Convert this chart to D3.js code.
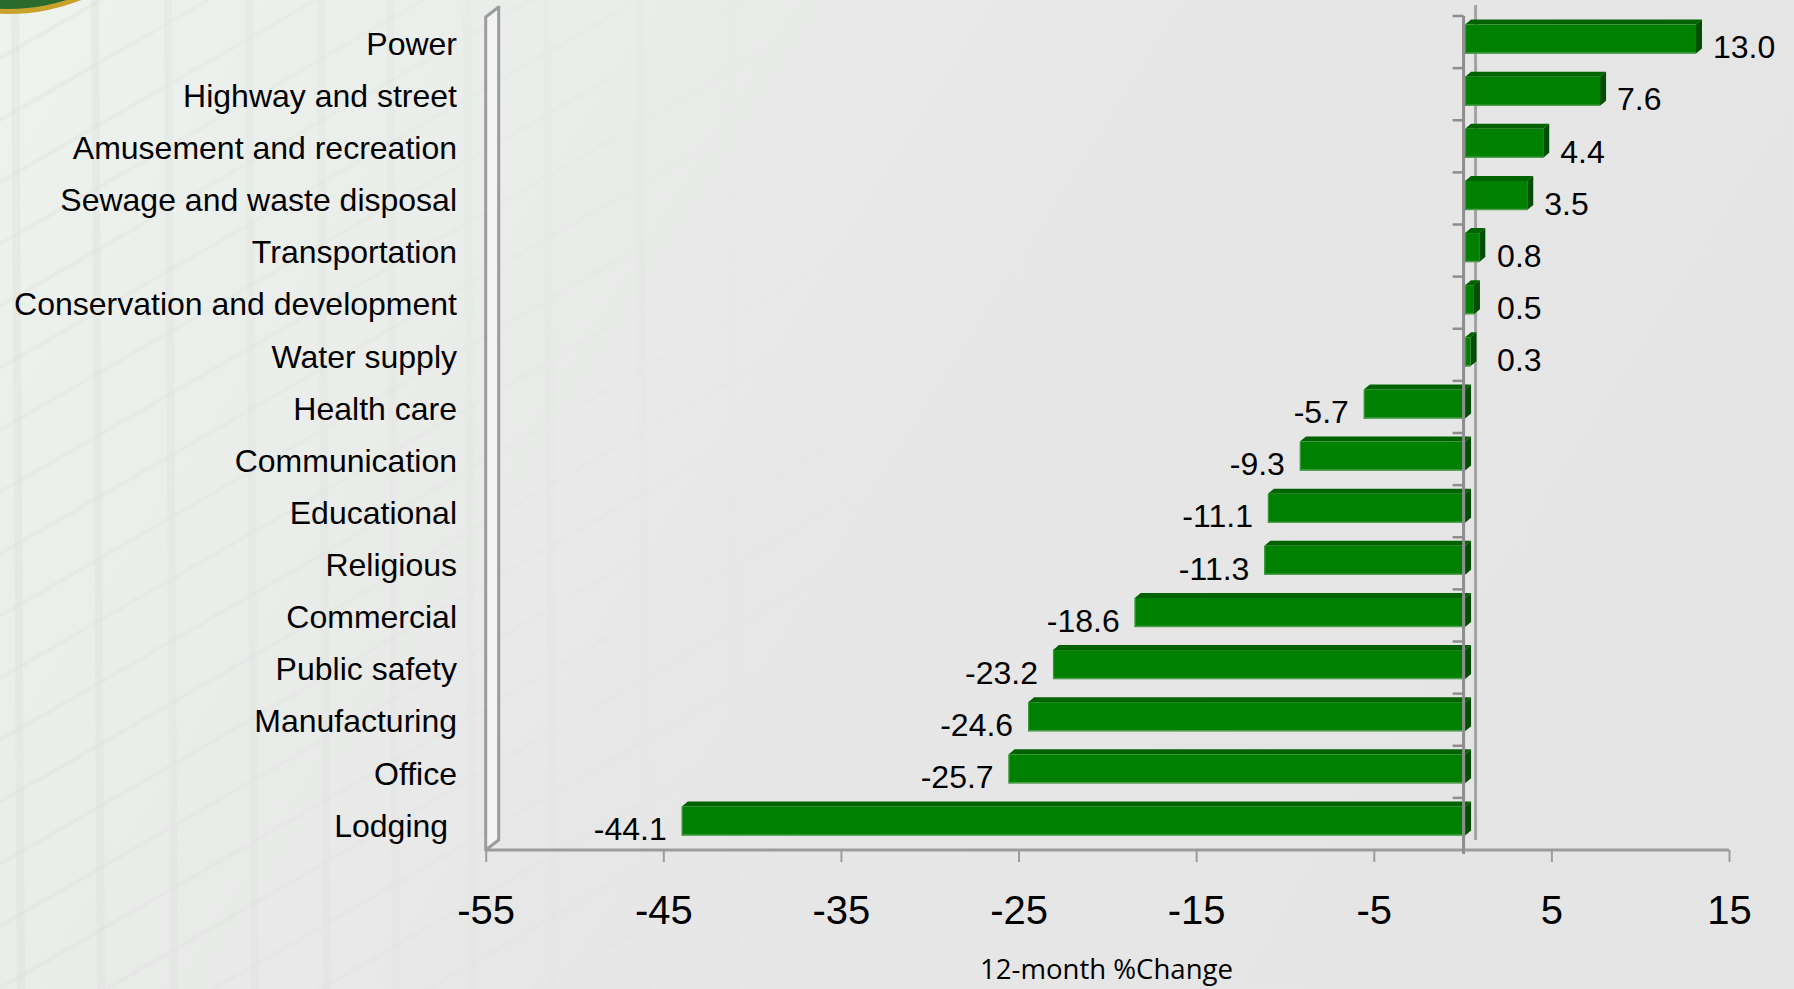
<!DOCTYPE html>
<html>
<head>
<meta charset="utf-8">
<script src="https://cdn.jsdelivr.net/npm/d3@7/dist/d3.min.js"></script>
<style>
  html, body { margin: 0; padding: 0; background: #e6e6e6; }
  svg { display: block; }
  .cat { white-space: pre; }
</style>
</head>
<body>
<svg id="chart" width="1794" height="989"></svg>
<script>
// ---- data ----
const categories = ["Power", "Highway and street", "Amusement and recreation", "Sewage and waste disposal",
  "Transportation", "Conservation and development", "Water supply", "Health care", "Communication",
  "Educational", "Religious", "Commercial", "Public safety", "Manufacturing", "Office", "Lodging "];
const values = [13.0, 7.6, 4.4, 3.5, 0.8, 0.5, 0.3, -5.7, -9.3, -11.1, -11.3, -18.6, -23.2, -24.6, -25.7, -44.1];
const xTicks = [-55, -45, -35, -25, -15, -5, 5, 15];
const xDomain = [-55, 15];
const xTitle = "12-month %Change";

// ---- layout ----
const W = 1794, H = 989;
const plot = { left: 485.7, right: 1729, top: 16, bottom: 850 };
const FONT = "'Liberation Sans', Arial, Helvetica, sans-serif";

const svg = d3.select("#chart");
const defs = svg.append("defs");

// background
const bg = defs.append("linearGradient").attr("id", "bg").attr("x1", 0).attr("x2", 1).attr("y1", 0).attr("y2", 0.35);
[[0, "#eef3ee"], [0.3, "#eaedea"], [0.55, "#e7e7e7"], [1, "#e5e5e5"]].forEach(s =>
  bg.append("stop").attr("offset", s[0]).attr("stop-color", s[1]));
svg.append("rect").attr("width", W).attr("height", H).attr("fill", "url(#bg)");

// faint window-grid texture on the left (decorative)
const fade = defs.append("linearGradient").attr("id", "fade").attr("x1", 0).attr("x2", 1).attr("y1", 0).attr("y2", 0);
fade.append("stop").attr("offset", 0).attr("stop-color", "#fff").attr("stop-opacity", 1);
fade.append("stop").attr("offset", 1).attr("stop-color", "#fff").attr("stop-opacity", 0);
const mask = defs.append("mask").attr("id", "texmask");
mask.append("rect").attr("x", 0).attr("y", 0).attr("width", 850).attr("height", H).attr("fill", "url(#fade)");
const tex = svg.append("g").attr("mask", "url(#texmask)");
const vLines = [15, 95, 168, 249, 321, 390, 467, 547, 640, 730];
tex.selectAll("line.v").data(vLines).join("line")
  .attr("x1", d => d).attr("x2", d => d + 6).attr("y1", 0).attr("y2", H)
  .attr("stroke", "#d9dcd9").attr("stroke-width", 8).attr("stroke-opacity", 0.35);
const dLines = d3.range(-6, 22);
tex.selectAll("line.d").data(dLines).join("line")
  .attr("x1", 0).attr("y1", d => d * 62 + 120).attr("x2", 850).attr("y2", d => d * 62 + 120 - 490)
  .attr("stroke", "#dadcda").attr("stroke-width", 4).attr("stroke-opacity", 0.28);

// seal (top-left, mostly off-canvas)
const seal = svg.append("g");
seal.append("circle").attr("cx", 8).attr("cy", -186).attr("r", 200).attr("fill", "#c9a22c");
seal.append("circle").attr("cx", 8).attr("cy", -186).attr("r", 195).attr("fill", "#2a6a2c");
seal.append("circle").attr("cx", 8).attr("cy", -186).attr("r", 182).attr("fill", "none")
  .attr("stroke", "#c9a22c").attr("stroke-width", 2);

// scales
const x = d3.scaleLinear().domain(xDomain).range([plot.left, plot.right]);
const y = d3.scaleBand().domain(categories).range([plot.top, plot.bottom]).paddingInner(0.444).paddingOuter(0.222);
const step = y.step();
const bx = v => x(v) + 2.5;        // bars sit slightly behind the front axis plane
const depth = { dx: 6, dy: -5 };

// left wall (3D edge)
svg.append("path")
  .attr("d", `M${plot.left},${plot.top + 1} L${plot.left + 13},${plot.top - 9} L${plot.left + 13},${plot.bottom - 10} L${plot.left},${plot.bottom} Z`)
  .attr("fill", "#f3f3f3").attr("stroke", "#9c9c9c").attr("stroke-width", 3).attr("stroke-linejoin", "round");

// zero axis: back edge
svg.append("line").attr("x1", x(0) + 13).attr("x2", x(0) + 13)
  .attr("y1", plot.top - 11).attr("y2", plot.bottom - 10)
  .attr("stroke", "#a3a3a3").attr("stroke-width", 3);

// x axis
const xAxis = d3.axisBottom(x).tickValues(xTicks).tickSize(12).tickPadding(34).tickFormat(d3.format("d"));
const gx = svg.append("g").attr("transform", `translate(0,${plot.bottom})`).call(xAxis);
gx.select(".domain").attr("stroke", "#9c9c9c").attr("stroke-width", 3).attr("d", `M${plot.left},0H${plot.right}`);
gx.selectAll(".tick line").attr("stroke", "#9c9c9c").attr("stroke-width", 2);
gx.selectAll(".tick text").attr("fill", "#000").style("font-family", FONT).style("font-size", "40px")
  .text(d => d3.format("d")(d).replace("−", "-"));

// bars
const bars = svg.append("g");
categories.forEach((c, i) => {
  const v = values[i];
  const x0 = bx(Math.min(0, v)), x1 = bx(Math.max(0, v));
  const yt = y(c) - 3, yb = yt + y.bandwidth();
  const g = bars.append("g");
  g.append("path")
    .attr("d", `M${x0},${yt} L${x0 + depth.dx},${yt + depth.dy} L${x1 + depth.dx},${yt + depth.dy} L${x1},${yt} Z`)
    .attr("fill", "#006200");
  g.append("path")
    .attr("d", `M${x1},${yt} L${x1 + depth.dx},${yt + depth.dy} L${x1 + depth.dx},${yb + depth.dy} L${x1},${yb} Z`)
    .attr("fill", "#004f00");
  g.append("rect").attr("x", x0).attr("y", yt).attr("width", x1 - x0).attr("height", yb - yt)
    .attr("fill", "#008000");
  g.append("line").attr("x1", x0).attr("x2", x1).attr("y1", yb - 0.5).attr("y2", yb - 0.5)
    .attr("stroke", "#4e9e4e").attr("stroke-width", 1.5);
  g.append("line").attr("x1", x0 + 0.5).attr("x2", x0 + 0.5).attr("y1", yt).attr("y2", yb)
    .attr("stroke", "#3d943d").attr("stroke-width", 1.2);
});

// zero axis: front line + ticks at band boundaries
svg.append("line").attr("x1", x(0) + 1).attr("x2", x(0) + 1)
  .attr("y1", plot.top).attr("y2", plot.bottom + 4)
  .attr("stroke", "#8e8e8e").attr("stroke-width", 3);
svg.append("g").selectAll("line").data(d3.range(categories.length)).join("line")
  .attr("x1", x(0) - 10).attr("x2", x(0) + 1)
  .attr("y1", i => plot.top + i * step).attr("y2", i => plot.top + i * step)
  .attr("stroke", "#8e8e8e").attr("stroke-width", 2.5);

// category labels
svg.append("g").selectAll("text").data(categories).join("text")
  .attr("class", "cat")
  .attr("x", 457).attr("y", d => y(d) + y.bandwidth() / 2 + 1.5)
  .attr("dy", "0.35em").attr("text-anchor", "end")
  .style("font-family", FONT).style("font-size", "32px").attr("fill", "#000")
  .text(d => d);

// value labels
svg.append("g").selectAll("text").data(categories).join("text")
  .attr("x", (c, i) => values[i] >= 0 ? Math.max(bx(values[i]) + depth.dx + 11, bx(0) + 32) : bx(values[i]) - 15)
  .attr("y", c => plot.top + (categories.indexOf(c) + 0.5) * step + 5)
  .attr("dy", "0.35em")
  .attr("text-anchor", (c, i) => values[i] >= 0 ? "start" : "end")
  .style("font-family", FONT).style("font-size", "32px").attr("fill", "#000")
  .text((c, i) => d3.format(".1f")(values[i]).replace("−", "-"));

// x axis title
svg.append("text").attr("x", 1106.5).attr("y", 979).attr("text-anchor", "middle")
  .attr("textLength", 253).attr("lengthAdjust", "spacingAndGlyphs")
  .style("font-family", "'Open Sans', 'Noto Sans', sans-serif").style("font-size", "28px").attr("fill", "#000")
  .text(xTitle);
</script>
</body>
</html>
